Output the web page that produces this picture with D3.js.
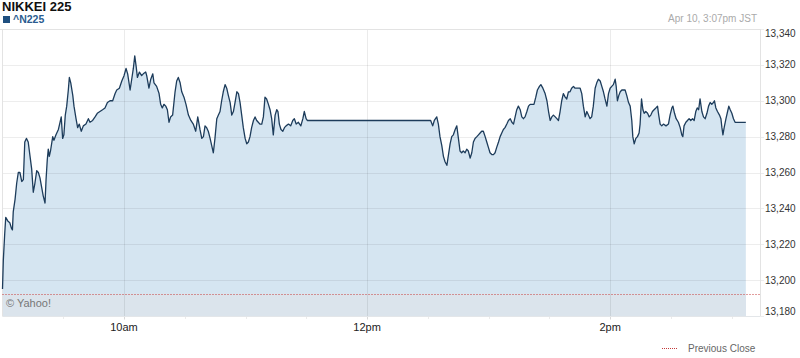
<!DOCTYPE html>
<html><head><meta charset="utf-8">
<script src="https://cdn.jsdelivr.net/npm/d3@7"></script>
<style>
body{margin:0;background:#fff}
svg{display:block;font-family:Arial,"Liberation Sans",Helvetica,sans-serif}
</style>
</head><body>
<svg id="c" width="800" height="358"></svg>
<script>
// ---- DATA ----
const chartTitle = "NIKKEI 225";
const seriesName = "^N225";
const stampText = "Apr 10, 3:07pm JST";
const creditText = "\u00A9 Yahoo!";
const legendText = "Previous Close";
const prevClose = 13192.5;
const yTicks = [13180, 13200, 13220, 13240, 13260, 13280, 13300, 13320, 13340];
const xTickHours = [10, 12, 14];
const xTickLabels = ["10am", "12pm", "2pm"];
// minutes after 9:00 JST
const minutes = [0,0.4,1.1,1.6,2.6,3.6,4.4,4.9,5.3,6.2,7.0,7.8,8.6,9.5,10.3,11.0,11.8,12.7,13.6,14.4,15.2,16.0,16.9,17.7,18.5,19.3,20.1,21.0,21.5,22.1,22.6,23.1,23.7,24.8,25.4,26.4,27.6,28.4,29.0,29.7,30.3,31.0,31.7,32.5,33.0,33.7,34.7,35.3,36.3,37.1,37.9,38.9,39.9,41.2,42.4,43.2,44.5,45.7,46.8,48.1,49.4,50.6,51.8,53.1,54.4,55.6,56.4,57.7,58.9,60.0,61.0,61.8,63.0,63.8,64.6,65.3,66.0,66.6,67.6,68.7,69.5,70.7,71.2,72.3,73.2,74.2,74.8,76.1,77.3,78.1,78.9,79.7,80.6,81.4,82.2,83.0,84.0,85.2,86.0,86.8,87.7,88.5,89.6,90.6,91.8,93.0,94.2,95.4,96.4,97.2,97.5,98.4,99.2,100.0,100.8,101.6,102.5,103.3,104.1,104.9,105.8,106.6,107.4,108.2,109.0,109.9,110.7,111.5,112.4,113.2,114.0,114.8,115.7,116.5,117.3,118.1,118.9,119.8,120.6,121.4,122.2,123.0,123.9,124.7,125.5,126.3,127.1,128.0,128.8,129.6,130.4,131.3,132.1,132.9,133.7,134.6,135.4,136.0,136.7,137.5,138.4,139.2,140.0,141.2,142.3,143.3,144.1,145.0,146.1,147.3,148.3,149.0,149.9,150.5,
210.3,211.4,212.4,213.2,214.4,215.2,216.0,216.9,217.7,218.5,219.4,220.2,221.0,221.8,222.6,223.5,224.3,225.1,225.9,226.7,227.5,228.4,229.2,230.0,230.9,231.7,232.5,233.3,234.2,235.0,235.8,236.6,237.4,238.3,239.1,239.9,240.7,241.6,242.4,243.2,244.0,244.9,245.7,246.5,247.3,248.1,249.0,249.8,250.7,251.5,252.3,253.1,253.9,254.7,255.6,256.4,257.2,258.0,258.9,259.7,260.5,261.8,262.4,263.3,264.1,265.1,265.8,266.8,267.9,268.8,269.6,270.4,271.2,272.0,272.9,273.7,274.5,275.3,276.1,276.9,277.8,278.6,279.4,280.2,281.0,281.9,282.7,283.5,285.2,286.0,286.8,287.7,288.5,289.3,290.1,290.9,291.7,292.6,293.4,294.2,295.1,295.9,296.7,297.5,298.4,299.2,300.0,300.8,301.6,302.5,303.0,303.6,304.3,305.0,305.8,306.6,307.4,308.2,309.1,309.9,310.7,311.2,311.9,312.7,313.5,314.3,314.8,315.5,316.2,316.8,317.6,318.5,319.3,320.1,320.9,321.7,322.6,323.4,324.0,324.7,325.5,326.3,327.6,328.8,329.6,330.5,331.0,331.8,332.6,333.7,334.6,335.4,335.9,336.5,337.4,338.2,339.0,339.8,340.7,341.5,342.3,343.0,343.7,344.4,345.3,346.1,346.9,347.8,348.6,349.4,350.2,351.0,351.5,352.2,353.0,354.0,354.7,355.2,355.7,356.3,357.2,358.0,358.6,359.3,360.1,360.9,361.7,367.0];
const prices = [13195,13211,13226,13235,13233,13232,13229,13228,13238,13245,13254,13260,13260,13255,13256,13277,13279,13277,13269,13262,13249,13254,13261,13260,13257,13252,13247,13243,13256,13267,13273,13269,13272,13280,13278,13281,13284,13288,13291,13279,13281,13292,13297,13306,13313,13310,13303,13297,13290,13285,13287,13283,13286,13287,13290,13288,13289,13291,13293,13294,13295,13296,13299,13300,13300,13304,13306,13307,13311,13314,13318,13315,13306,13312,13318,13325,13319,13313,13316,13314,13315,13316,13314,13307,13312,13315,13310,13308,13304,13298,13296,13298,13297,13295,13288,13291,13292,13305,13311,13313,13310,13305,13302,13298,13292,13289,13287,13283,13291,13286,13284,13279,13280,13286,13285,13283,13279,13275,13271,13279,13290,13292,13294,13300,13305,13309,13307,13303,13299,13292,13294,13299,13305,13304,13299,13292,13285,13279,13276,13277,13280,13285,13289,13291,13289,13288,13287,13287,13291,13302,13301,13298,13295,13290,13281,13292,13295,13294,13287,13284,13283,13285,13286,13287,13286,13289,13290,13287,13288,13286,13290,13294,13290,13289,
13289,13289,13286,13289,13291,13287,13280,13275,13269,13266,13264,13270,13276,13280,13281,13284,13286,13279,13272,13271,13272,13271,13273,13272,13268,13271,13277,13279,13280,13281,13282,13283,13283,13280,13277,13274,13271,13270,13270,13271,13274,13277,13280,13282,13284,13285,13287,13289,13290,13288,13287,13291,13295,13297,13295,13291,13290,13291,13294,13297,13298,13298,13298,13302,13306,13308,13309,13307,13304,13300,13294,13289,13291,13292,13291,13290,13289,13294,13300,13304,13302,13301,13305,13305,13307,13308,13307,13307,13307,13304,13297,13291,13294,13292,13290,13291,13297,13307,13310,13312,13311,13308,13305,13301,13297,13304,13307,13308,13309,13312,13308,13300,13303,13305,13306,13306,13306,13303,13299,13297,13289,13280,13276,13279,13280,13282,13287,13301,13295,13293,13294,13293,13291,13292,13294,13295,13296,13297,13292,13287,13286,13287,13286,13287,13292,13296,13297,13293,13290,13288,13285,13281,13280,13286,13288,13289,13290,13289,13290,13289,13294,13296,13295,13301,13294,13291,13290,13293,13297,13299,13298,13299,13300,13296,13294,13292,13290,13285,13281,13285,13290,13294,13297,13295,13293,13290,13288,13288];

// ---- CHART ----
const svg = d3.select("#c");
const base = new Date(2013, 3, 10, 9, 0, 0);
const toTime = m => new Date(base.getTime() + m * 60000);
const data = minutes.map((m, i) => ({t: toTime(m), v: prices[i]}));

const L = 2.5, R = 760, T = 29, B = 316;
const x = d3.scaleTime().domain([base, toTime(374)]).range([L, R]);
const y = d3.scaleLinear().domain([13180, 13340]).range([B, T]);

// fill area
const area = d3.area().x(d => x(d.t)).y0(B).y1(d => y(d.v));
svg.append("path").datum(data).attr("d", area).attr("fill", "#d5e5f1");
// band below previous close
const x0 = x(data[0].t), x1 = x(data[data.length - 1].t);
svg.append("rect").attr("x", x0).attr("y", y(prevClose)).attr("width", x1 - x0)
  .attr("height", B - y(prevClose)).attr("fill", "#dbe4ec");

// horizontal grid
svg.append("g").selectAll("line").data(yTicks).join("line")
  .attr("x1", L).attr("x2", R + 4).attr("y1", d => Math.round(y(d)) + 0.5).attr("y2", d => Math.round(y(d)) + 0.5)
  .attr("stroke", "#000").attr("stroke-opacity", 0.07);

// vertical grid lines
const hourTimes = xTickHours.map(h => new Date(2013, 3, 10, h, 0, 0));
svg.append("g").selectAll("line").data(hourTimes).join("line")
  .attr("x1", d => Math.round(x(d)) + 0.5).attr("x2", d => Math.round(x(d)) + 0.5)
  .attr("y1", T).attr("y2", B + 4)
  .attr("stroke", "#000").attr("stroke-opacity", 0.08);

// minor half-hour ticks below plot
const halfTicks = d3.timeMinute.every(30).range(toTime(1), toTime(374));
svg.append("g").selectAll("line").data(halfTicks).join("line")
  .attr("x1", d => Math.round(x(d)) + 0.5).attr("x2", d => Math.round(x(d)) + 0.5)
  .attr("y1", B).attr("y2", B + 3)
  .attr("stroke", "#000").attr("stroke-opacity", 0.08);

// frame
svg.append("line").attr("x1", 0).attr("x2", R).attr("y1", T + 0.5).attr("y2", T + 0.5).attr("stroke", "#e3e3e3");
svg.append("line").attr("x1", L).attr("x2", R).attr("y1", B + 0.5).attr("y2", B + 0.5).attr("stroke", "#e3e6e9");
svg.append("line").attr("x1", R + 0.5).attr("x2", R + 0.5).attr("y1", T).attr("y2", B).attr("stroke", "#e3e3e3");
svg.append("line").attr("x1", 2.5).attr("x2", 2.5).attr("y1", T).attr("y2", B).attr("stroke", "#e3e3e3");

// previous close line
svg.append("line").attr("x1", L).attr("x2", R).attr("y1", Math.round(y(prevClose)) + 0.5).attr("y2", Math.round(y(prevClose)) + 0.5)
  .attr("stroke", "#c43b3b").attr("stroke-dasharray", "1,2");

// price line
const line = d3.line().x(d => x(d.t)).y(d => y(d.v));
svg.append("path").datum(data).attr("d", line).attr("fill", "none")
  .attr("stroke", "#1d3c5b").attr("stroke-width", 1.3).attr("stroke-linejoin", "round");

// y labels
svg.append("g").selectAll("text").data(yTicks).join("text")
  .attr("x", 765).attr("y", d => Math.max(T + 4, Math.min(B - 5, y(d))))
  .attr("dy", "0.35em").attr("font-size", 10).attr("fill", "#333")
  .text(d => d3.format(",")(d));

// x labels
svg.append("g").selectAll("text").data(hourTimes).join("text")
  .attr("x", d => x(d)).attr("y", 330.5).attr("text-anchor", "middle")
  .attr("font-size", 11).attr("fill", "#222")
  .text((d, i) => xTickLabels[i]);

// titles
svg.append("text").attr("x", 2).attr("y", 10.5).attr("font-size", 13).attr("font-weight", "bold").attr("fill", "#111").text(chartTitle);
svg.append("rect").attr("x", 3).attr("y", 16).attr("width", 7).attr("height", 7).attr("fill", "#1f4f7f");
svg.append("text").attr("x", 13).attr("y", 23).attr("font-size", 10.5).attr("font-weight", "bold").attr("fill", "#2a5c8f").text(seriesName);
svg.append("text").attr("x", 757).attr("y", 22).attr("text-anchor", "end").attr("font-size", 10).attr("fill", "#aaa").text(stampText);

// credit
svg.append("text").attr("x", 6).attr("y", 307).attr("font-size", 11).attr("fill", "#777").text(creditText);

// legend
svg.append("line").attr("x1", 662).attr("x2", 678).attr("y1", 348.5).attr("y2", 348.5)
  .attr("stroke", "#c43b3b").attr("stroke-dasharray", "1,1");
svg.append("text").attr("x", 688).attr("y", 352).attr("font-size", 10).attr("fill", "#666").text(legendText);
</script>
</body></html>
